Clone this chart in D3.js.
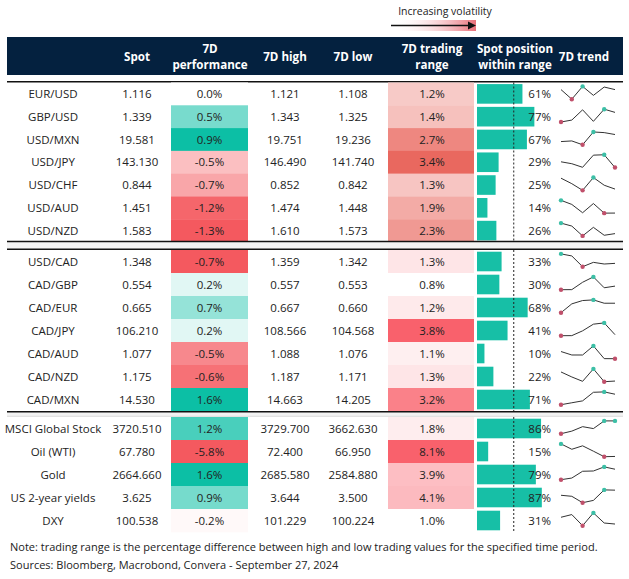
<!DOCTYPE html>
<html><head><meta charset="utf-8">
<script src="https://cdn.jsdelivr.net/npm/d3@7"></script>
<style>
html,body{margin:0;padding:0;background:#fff;}
svg{display:block;font-family:"Segoe UI","Open Sans","Noto Sans",sans-serif;}
</style></head>
<body>
<svg id="chart" width="629" height="579"></svg>
<script>
// ---------- DATA ----------
const groupNames = ["Majors", "CAD", "Other"];
const labels = [
  ["EUR/USD","GBP/USD","USD/MXN","USD/JPY","USD/CHF","USD/AUD","USD/NZD"],
  ["USD/CAD","CAD/GBP","CAD/EUR","CAD/JPY","CAD/AUD","CAD/NZD","CAD/MXN"],
  ["MSCI Global Stock","Oil (WTI)","Gold","US 2-year yields","DXY"]
];
const spot = [
  [1.116,1.339,19.581,143.130,0.844,1.451,1.583],
  [1.348,0.554,0.665,106.210,1.077,1.175,14.530],
  [3720.510,67.780,2664.660,3.625,100.538]
];
const perf = [
  [0.0,0.5,0.9,-0.5,-0.7,-1.2,-1.3],
  [-0.7,0.2,0.7,0.2,-0.5,-0.6,1.6],
  [1.2,-5.8,1.6,0.9,-0.2]
];
const high = [
  [1.121,1.343,19.751,146.490,0.852,1.474,1.610],
  [1.359,0.557,0.667,108.566,1.088,1.187,14.663],
  [3729.700,72.400,2685.580,3.644,101.229]
];
const low = [
  [1.108,1.325,19.236,141.740,0.842,1.448,1.573],
  [1.342,0.553,0.660,104.568,1.076,1.171,14.205],
  [3662.630,66.950,2584.880,3.500,100.224]
];
const tradingRange = [
  [1.2,1.4,2.7,3.4,1.3,1.9,2.3],
  [1.3,0.8,1.2,3.8,1.1,1.3,3.2],
  [1.8,8.1,3.9,4.1,1.0]
];
const position = [
  [61,77,67,29,25,14,26],
  [33,30,68,41,10,22,71],
  [86,15,79,87,31]
];
// 7-day trend, six observations each, relative level (0 = period low, 1 = period high)
const trend = [
  [[0.75,0,1,0.3,0.95,0.75],[0,0.15,0.95,0.05,1,0.75],[0.25,0.3,0,1,0.95,0.8],
   [0.45,0.3,0.02,0.97,1,0],[0.95,0.52,0,1,0.4,0.1],[1,0.68,0.03,0.75,0,0.005],
   [1,0.77,0,0.67,0.05,0.18]],
  [[1,0.84,0,0.34,0.21,0.26],[0,0.005,0.58,1,0.15,0.28],[0,0.69,0.95,1,0.74,0.74],
   [0,0.005,0.38,0.9,1,0.08],[0.56,0.29,0.29,1,0.005,0],[0.76,0.37,0.03,1,0,0.05],
   [0,0.15,0.3,0.97,1,0.82]],
  [[0,0.2,0.55,0.4,1,1],[1,0.58,0.85,0.43,0,0.02],[0,0.13,0.66,0.68,1,0.82],
   [0.58,0.5,0,0.18,1,0.98],[0.66,0.87,0,1,0.21,0.13]]
];
const rangeDomains = [[0,3.4],[0.8,3.8],[1.0,8.1]];
const headers = [
  {lines:["Spot"], x:137},
  {lines:["7D","performance"], x:210},
  {lines:["7D high"], x:285},
  {lines:["7D low"], x:353},
  {lines:["7D trading","range"], x:432},
  {lines:["Spot position","within range"], x:515},
  {lines:["7D trend"], x:584}
];
const noteText = "Note: trading range is the percentage difference between high and low trading values for the specified time period.";
const sourceText = "Sources: Bloomberg, Macrobond, Convera - September 27, 2024";
const legendText = "Increasing volatility";

// ---------- LAYOUT ----------
const svg = d3.select("#chart");
const groupBands = [[82.5,242],[250,411],[417,532]];
const colX = {label:53, spot:137, perfL:171, perfR:248, high:285, low:353, rngL:388, rngR:474, trendL:561, trendR:615};
const posX = d3.scaleLinear().domain([0,100]).range([477,551.5]);
const txt = "#222";
const fmt3 = v => v.toFixed(3);
const fmtP = v => v.toFixed(1) + "%";

svg.append("rect").attr("width",629).attr("height",579).attr("fill","#fff");

// Legend
const defs = svg.append("defs");
const lg = defs.append("linearGradient").attr("id","volgrad").attr("x1","0%").attr("x2","100%");
lg.append("stop").attr("offset","0%").attr("stop-color","#fff").attr("stop-opacity",0);
lg.append("stop").attr("offset","100%").attr("stop-color","#e9707a");
svg.append("rect").attr("x",392).attr("y",20).attr("width",84).attr("height",11).attr("fill","url(#volgrad)");
svg.append("line").attr("x1",391).attr("x2",470).attr("y1",25.5).attr("y2",25.5).attr("stroke","#111").attr("stroke-width",1.3);
svg.append("path").attr("d","M468,21.5 L476,25.5 L468,29.5 Z").attr("fill","#111");
svg.append("text").attr("x",445).attr("y",14.5).attr("text-anchor","middle").attr("font-size",10.5).attr("fill",txt).text(legendText);

// Header
svg.append("rect").attr("x",7).attr("y",37).attr("width",616).attr("height",38).attr("fill","#04213f");
headers.forEach(h=>{
  const ys = h.lines.length===1 ? [60.5] : [53.3, 69];
  h.lines.forEach((ln,k)=>{
    svg.append("text").attr("x",h.x).attr("y",ys[k]).attr("text-anchor","middle").attr("fill","#fff")
      .attr("font-size",11.6).attr("font-weight",700).text(ln);
  });
});
svg.append("line").attr("x1",7).attr("x2",623).attr("y1",81.7).attr("y2",81.7).attr("stroke","#111").attr("stroke-width",1.5);

// Groups
labels.forEach((labs, g)=>{
  const y = d3.scaleBand().domain(d3.range(labs.length)).range(groupBands[g]);
  const bw = y.bandwidth();
  const gs = svg.append("g");

  const pMin = d3.min(perf[g]), pMax = d3.max(perf[g]);
  const negC = d3.scaleLinear().domain([0, pMin]).range(["#ffffff","#f4595f"]).clamp(true);
  const posC = d3.scaleLinear().domain([0, pMax]).range(["#ffffff","#0cbfa5"]).clamp(true);
  const rngC = d3.scaleLinear().domain(rangeDomains[g]).range(["#ffffff", g===0 ? "#e9685f" : "#f9616c"]).clamp(true);

  labs.forEach((lab,i)=>{
    const top = y(i), cy = top + bw/2, base = cy + 4.2;
    const pv = perf[g][i];
    gs.append("rect").attr("x",colX.perfL).attr("y",top).attr("width",colX.perfR-colX.perfL).attr("height",bw+0.3)
      .attr("fill", pv<0 ? negC(pv) : posC(pv));
    gs.append("rect").attr("x",colX.rngL).attr("y",top).attr("width",colX.rngR-colX.rngL).attr("height",bw+0.3)
      .attr("fill", rngC(tradingRange[g][i]));
    gs.append("rect").attr("x",posX(0)).attr("y",cy-9.8).attr("width",posX(position[g][i])-posX(0)).attr("height",19.6)
      .attr("fill","#17bfa6");

    const T = (x,s,anchor)=>gs.append("text").attr("x",x).attr("y",base).attr("text-anchor",anchor||"middle")
      .attr("font-size",11.5).attr("fill",txt).text(s);
    T(colX.label, lab);
    T(colX.spot, fmt3(spot[g][i]));
    T((colX.perfL+colX.perfR)/2, fmtP(pv));
    T(colX.high, fmt3(high[g][i]));
    T(colX.low, fmt3(low[g][i]));
    T((colX.rngL+colX.rngR)/2+1, fmtP(tradingRange[g][i]));
    T(551, position[g][i] + "%", "end");

    // sparkline
    const vals = trend[g][i];
    const sx = d3.scalePoint().domain(d3.range(vals.length)).range([colX.trendL, colX.trendR]);
    const sy = d3.scaleLinear().domain([0,1]).range([top+16.7, top+3.9]);
    gs.append("path").attr("d", d3.line().x((d,k)=>sx(k)).y(d=>sy(d))(vals))
      .attr("fill","none").attr("stroke","#333").attr("stroke-width",1);
    const vmin = d3.min(vals), vmax = d3.max(vals);
    vals.forEach((v,k)=>{
      if(v===vmin) gs.append("circle").attr("cx",sx(k)).attr("cy",sy(v)).attr("r",2.2).attr("fill","#c0506b");
      if(v===vmax) gs.append("circle").attr("cx",sx(k)).attr("cy",sy(v)).attr("r",2.2).attr("fill","#3cbfa6");
    });
  });
  // dashed 50% line
  gs.append("line").attr("x1",posX(50)-0.5).attr("x2",posX(50)-0.5).attr("y1",groupBands[g][0]).attr("y2",groupBands[g][1])
    .attr("stroke","#222").attr("stroke-width",1).attr("stroke-dasharray","2,2");
});

// Separators
[[241.5,249.3],[411.8,416.3]].forEach(([a,b],k)=>{
  svg.append("rect").attr("x",7).attr("y",a).attr("width",616).attr("height",b-a).attr("fill","#f2f2f2");
  svg.append("line").attr("x1",7).attr("x2",623).attr("y1",a).attr("y2",a).attr("stroke","#111").attr("stroke-width",1.5);
  svg.append("line").attr("x1",7).attr("x2",623).attr("y1",b).attr("y2",b).attr("stroke", k===0 ? "#111" : "#ddd").attr("stroke-width",k===0?1.5:1);
});

// Footnotes
svg.append("text").attr("x",10).attr("y",551).attr("font-size",11).attr("fill",txt).text(noteText);
svg.append("text").attr("x",10).attr("y",569).attr("font-size",11).attr("fill",txt).text(sourceText);
</script>
</body></html>
